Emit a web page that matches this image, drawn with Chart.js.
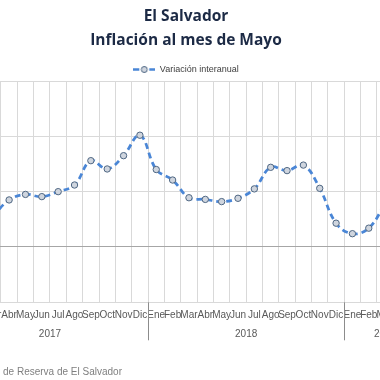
<!DOCTYPE html>
<html><head><meta charset="utf-8">
<script src="https://cdn.jsdelivr.net/npm/chart.js@4"></script>
<style>
html,body{margin:0;padding:0;background:#fff;overflow:hidden;width:380px;height:380px;position:relative;}
#wrap{position:absolute;left:-100px;top:0;width:572px;height:380px;}
#src{position:absolute;right:258px;top:365px;white-space:nowrap;font:10px 'Liberation Sans',Arial,sans-serif;color:#7f7f7f;line-height:14px;}
</style></head><body>
<div id="wrap"><canvas id="c" width="572" height="380"></canvas></div>
<div id="src">Fuente: Banco Central de Reserva de El Salvador</div>
<script>
// Data (visible window: Mar 2017 - Mar 2019)
const months = ['Mar','Abr','May','Jun','Jul','Ago','Sep','Oct','Nov','Dic',
                'Ene','Feb','Mar','Abr','May','Jun','Jul','Ago','Sep','Oct','Nov','Dic',
                'Ene','Feb','Mar'];
const inflation = [0.55,0.85,0.95,0.91,1.00,1.12,1.56,1.41,1.65,2.02,
                   1.40,1.21,0.89,0.86,0.82,0.88,1.05,1.44,1.38,1.48,1.06,0.43,
                   0.24,0.34,0.78];
const yearLabels = ['2017','2018','2019'];
const yearFirstIndex = [-2,10,22];   // Ene of each year (index relative to first category)
const yearLastIndex = [9,21,26];     // last month of each year group
const yTicks = [-1,0,1,2,3];
const seriesName = 'Variación interanual';

const LINE = '#4a86d6', PT_FILL = '#cfd5de', PT_BORDER = '#4f6783';
const TICK_FONT = "'Liberation Sans Narrow','Arial Narrow','Liberation Sans',Arial,sans-serif";

// legend marker: dashed line with circle
const mk = document.createElement('canvas');
mk.width = 22; mk.height = 9;
(function(){
  const g = mk.getContext('2d');
  g.strokeStyle = LINE; g.lineWidth = 2.5;
  g.beginPath(); g.moveTo(0,4.5); g.lineTo(6,4.5); g.moveTo(16,4.5); g.lineTo(22,4.5); g.stroke();
  g.beginPath(); g.arc(11,4.5,3,0,Math.PI*2); g.fillStyle = PT_FILL; g.fill();
  g.lineWidth = 1; g.strokeStyle = PT_BORDER; g.stroke();
})();

const yearAxis = {
  id: 'yearAxis',
  afterDraw(chart){
    const {ctx, chartArea} = chart; const x = chart.scales.x;
    ctx.save();
    ctx.font = "10px " + TICK_FONT;
    ctx.fillStyle = '#595959'; ctx.textAlign = 'center'; ctx.textBaseline = 'middle';
    ctx.strokeStyle = '#8c8c8c'; ctx.lineWidth = 1;
    yearLabels.forEach((lab,i)=>{
      const a = x.getPixelForValue(yearFirstIndex[i]);
      const b = x.getPixelForValue(yearLastIndex[i]);
      ctx.fillText(lab, (a+b)/2, chartArea.bottom + 32);
      const s = Math.round(x.getPixelForValue(yearLastIndex[i] + 0.5)) + 0.5;
      ctx.beginPath(); ctx.moveTo(s, chartArea.bottom); ctx.lineTo(s, chartArea.bottom + 38); ctx.stroke();
    });
    ctx.restore();
  }
};

new Chart(document.getElementById('c'), {
  type: 'line',
  data: {
    labels: months,
    datasets: [{
      label: seriesName, data: inflation,
      borderColor: LINE, borderWidth: 2.75, borderDash: [6,4],
      tension: 0.4, fill: false,
      pointRadius: 3.2, pointBackgroundColor: PT_FILL, pointBorderColor: PT_BORDER, pointBorderWidth: 1,
      xAxisID: 'x', yAxisID: 'y'
    }]
  },
  options: {
    responsive: false, animation: false,
    layout: {padding: 0},
    plugins: {
      title: {display: true, text: ['El Salvador','Inflación al mes de Mayo'], color: '#1c2a45',
              font: {family: "'Open Sans'", size: 15.5, weight: 'bold', lineHeight: '24px'},
              padding: {top: 5, bottom: 2}},
      legend: {display: true, maxHeight: 26,
               labels: {usePointStyle: true, pointStyleWidth: 22, padding: 10, color: '#404040',
                        font: {family: TICK_FONT, size: 9},
                        generateLabels: () => [{text: seriesName, pointStyle: mk, fillStyle: PT_FILL,
                          strokeStyle: LINE, lineWidth: 0, hidden: false, datasetIndex: 0, fontColor: '#404040'}]}},
      tooltip: {enabled: false}
    },
    scales: {
      x: {type: 'category', offset: true,
          grid: {offset: true, color: '#d9d9d9', drawTicks: false},
          border: {display: false},
          ticks: {autoSkip: false, maxRotation: 0, minRotation: 0, padding: 7, color: '#595959',
                  font: {family: TICK_FONT, size: 10}},
          afterFit(s){ s.height = 77.7; }},
      y: {type: 'linear', min: -1, max: 3,
          afterBuildTicks(s){ s.ticks = yTicks.map(v => ({value: v})); },
          grid: {color: c => c.tick && c.tick.value === 0 ? '#a6a6a6' : '#d9d9d9', drawTicks: false},
          border: {display: false},
          ticks: {color: '#595959', font: {family: TICK_FONT, size: 10}, callback: v => v.toFixed(1) + '%'},
          afterFit(s){ s.width = 84.6; }},
      y2: {type: 'linear', position: 'right', display: true,
           grid: {display: false}, border: {display: false}, ticks: {display: false},
           afterFit(s){ s.width = 78.7; }}
    }
  },
  plugins: [yearAxis]
});
</script>
</body></html>
